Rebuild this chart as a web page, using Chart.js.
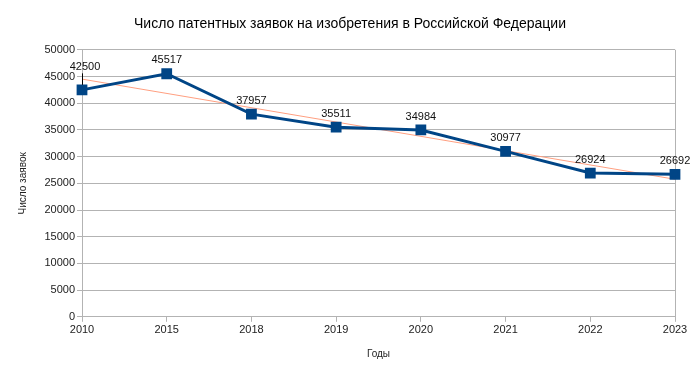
<!DOCTYPE html>
<html><head><meta charset="utf-8">
<script src="https://cdn.jsdelivr.net/npm/chart.js@4"></script>
<style>html,body{margin:0;padding:0;background:#fff}#w{width:700px;height:375px}</style>
</head><body><div id="w"><canvas id="c"></canvas></div>
<script>
const categories = ['2010','2015','2018','2019','2020','2021','2022','2023'];
const applications = [42500,45517,37957,35511,34984,30977,26924,26692];
const trendValues = [44510,null,null,null,null,null,null,25755];
const yTicks = [0,5000,10000,15000,20000,25000,30000,35000,40000,45000,50000];

const FONT = "'Liberation Sans', Arial, sans-serif";

const labelPlugin = {
  id:'labels',
  afterDatasetsDraw(chart){
    const ctx = chart.ctx;
    const meta = chart.getDatasetMeta(1);
    ctx.save();
    ctx.font = '11px ' + FONT;
    ctx.fillStyle = '#111';
    ctx.textAlign = 'center';
    ctx.textBaseline = 'middle';
    meta.data.forEach((pt,i)=>{
      let dy = 13.5, dx = 0;
      if(i===0){ dy = 22.5; dx = 3;
        ctx.strokeStyle='#000'; ctx.lineWidth=1;
        ctx.beginPath(); ctx.moveTo(pt.x+0.5, pt.y-dy+6); ctx.lineTo(pt.x+0.5, pt.y-5); ctx.stroke();
      }
      ctx.fillText(String(applications[i]), pt.x+dx, pt.y-dy);
    });
    ctx.restore();
  }
};

new Chart(document.getElementById('c'), {
  type:'line',
  data:{
    labels: categories,
    datasets:[
      {data: trendValues, borderColor:'#ff9f80', borderWidth:1, pointRadius:0, spanGaps:true, fill:false, order:2},
      {data: applications, borderColor:'#004586', backgroundColor:'#004586', borderWidth:3, pointStyle:'rect', pointRadius:5.5, pointHoverRadius:5.5, fill:false, order:1}
    ]
  },
  options:{
    responsive:true, maintainAspectRatio:false, animation:false,
    layout:{padding:{left:0, right:0, top:0, bottom:11}},
    plugins:{
      legend:{display:false}, tooltip:{enabled:false},
      title:{display:true, text:'Число патентных заявок на изобретения в Российской Федерации', color:'#000', font:{family:FONT, size:14, weight:'normal'}, padding:{top:16, bottom:17}}
    },
    scales:{
      x:{
        offset:false,
        grid:{color:(c)=> (c.index===0||c.index===categories.length-1)?'#b3b3b3':'rgba(0,0,0,0)', tickColor:'#b3b3b3', tickLength:5, lineWidth:1},
        border:{color:'#b3b3b3'},
        ticks:{color:'#222', font:{family:FONT, size:11}, padding:2, maxRotation:0},
        title:{display:true, text:'Годы', color:'#222', font:{family:FONT, size:10}, padding:{top:9}}
      },
      y:{
        min:0, max:50000,
        afterBuildTicks(s){ s.ticks = yTicks.map(v=>({value:v})); },
        afterFit(s){ s.width = 82; },
        grid:{color:'#b3b3b3', tickColor:'#b3b3b3', tickLength:5},
        border:{color:'#b3b3b3'},
        ticks:{color:'#222', font:{family:FONT, size:11}, padding:2, callback:(v)=>String(v)},
        title:{display:true, text:'Число заявок', color:'#222', font:{family:FONT, size:10}, padding:{top:17, bottom:0}}
      },
      yRight:{
        position:'right', min:0, max:50000,
        afterFit(s){ s.width = 25; },
        grid:{display:false}, border:{display:false}, ticks:{display:false}
      }
    }
  },
  plugins:[labelPlugin]
});
</script></body></html>
